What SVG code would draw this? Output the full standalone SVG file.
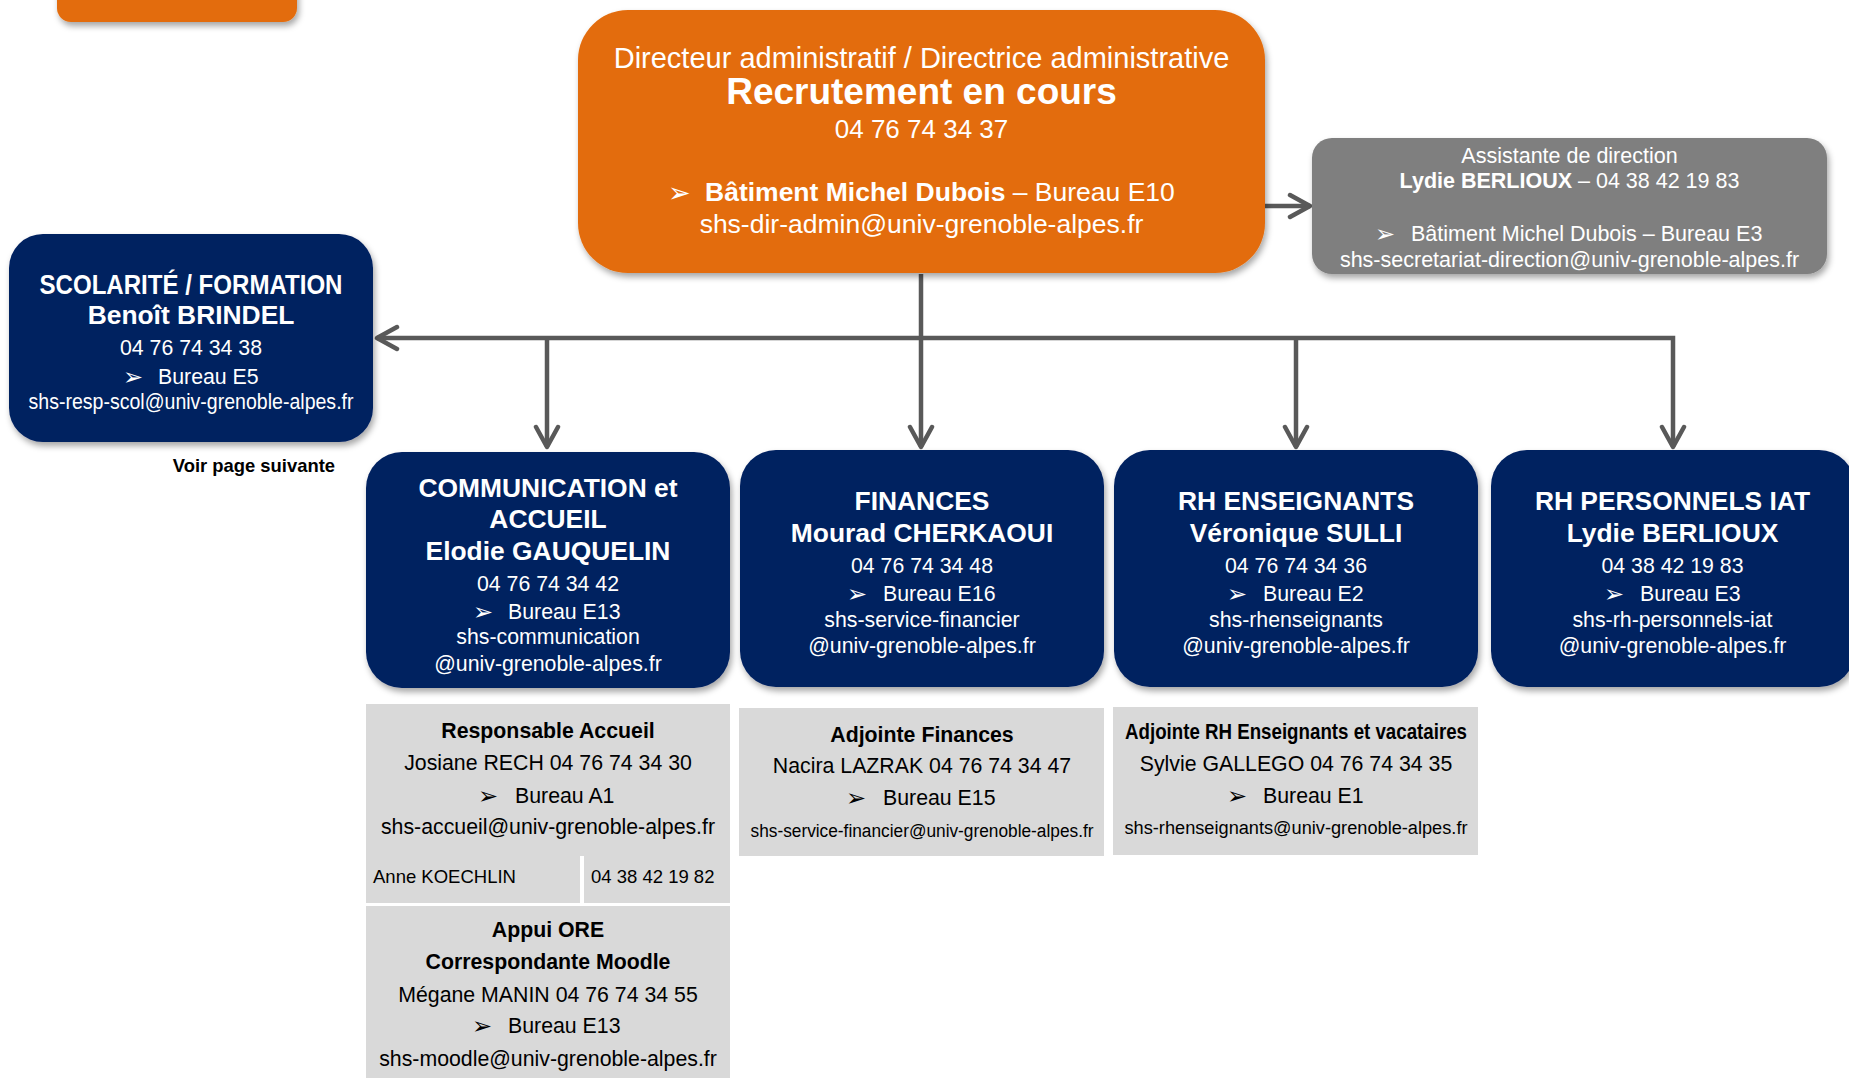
<svg xmlns="http://www.w3.org/2000/svg" width="1849" height="1078" viewBox="0 0 1849 1078">
<style>
text{font-family:"Liberation Sans",Arial,sans-serif;}
.w{fill:#fff}.k{fill:#000}.b{font-weight:700}.c{text-anchor:middle}
.blt{font-family:"DejaVu Sans",sans-serif}
.navy{fill:#002060}.org{fill:#E36C0A}.gry{fill:#7F7F7F}.lg{fill:#D9D9D9}
.conn{stroke:#595959;stroke-width:4.5;fill:none}
.h{font-size:26.4px;font-weight:700}
.t{font-size:21.3px}
.bs{font-size:24px}
</style>
<defs>
<filter id="sh" x="-10%" y="-10%" width="125%" height="130%"><feDropShadow dx="2" dy="4" stdDeviation="3" flood-color="#000" flood-opacity="0.35"/></filter>
<marker id="ah" markerUnits="userSpaceOnUse" viewBox="0 0 28 28" markerWidth="28" markerHeight="28" refX="23" refY="14" orient="auto"><path d="M3,3 L23,14 L3,25" fill="none" stroke="#595959" stroke-width="4.5" stroke-linecap="round" stroke-linejoin="round"/></marker>
</defs>
<rect width="1849" height="1078" fill="#fff"/>

<g id="connectors">
<path class="conn" d="M921,274 V447" marker-end="url(#ah)"/>
<path class="conn" d="M921,338 H377" marker-end="url(#ah)"/>
<path class="conn" d="M921,338 H1673 V447" marker-end="url(#ah)"/>
<path class="conn" d="M547,338 V447" marker-end="url(#ah)"/>
<path class="conn" d="M1296,338 V447" marker-end="url(#ah)"/>
<path class="conn" d="M1265,206 H1310" marker-end="url(#ah)"/>
</g>

<g id="top-left-box">
<rect class="org" x="57" y="-40" width="240" height="62" rx="14" filter="url(#sh)"/>
</g>

<g id="direction">
<rect class="org" x="578" y="10" width="687" height="263" rx="50" filter="url(#sh)"/>
<text class="w c" x="921.5" y="68" font-size="29">Directeur administratif / Directrice administrative</text>
<text class="w c b" x="921.5" y="104" font-size="37">Recrutement en cours</text>
<text class="w c" x="921.5" y="138" font-size="26">04 76 74 34 37</text>
<text class="w blt" x="668" y="202" font-size="27">➢</text>
<text class="w" x="705" y="201" font-size="26.5"><tspan class="b">Bâtiment Michel Dubois</tspan> – Bureau E10</text>
<text class="w c" x="921.5" y="233" font-size="26.5">shs-dir-admin@univ-grenoble-alpes.fr</text>
</g>

<g id="assistante">
<rect class="gry" x="1312" y="138" width="515" height="136" rx="20" filter="url(#sh)"/>
<text class="w c" x="1569.5" y="163" font-size="21.5">Assistante de direction</text>
<text class="w c" x="1569.5" y="188" font-size="21.5"><tspan class="b">Lydie BERLIOUX</tspan> – 04 38 42 19 83</text>
<text class="w blt bs" x="1375" y="242">➢</text>
<text class="w" x="1411" y="241" font-size="21.5">Bâtiment Michel Dubois – Bureau E3</text>
<text class="w c" x="1569.5" y="267" font-size="21.5">shs-secretariat-direction@univ-grenoble-alpes.fr</text>
</g>

<g id="scolarite">
<rect class="navy" x="9" y="234" width="364" height="208" rx="34" filter="url(#sh)"/>
<text class="w c b" x="191" y="294" font-size="27" textLength="303" lengthAdjust="spacingAndGlyphs">SCOLARITÉ / FORMATION</text>
<text class="w c h" x="191" y="324">Benoît BRINDEL</text>
<text class="w c t" x="191" y="355">04 76 74 34 38</text>
<text class="w blt bs" x="123" y="385">➢</text>
<text class="w t" x="158" y="384">Bureau E5</text>
<text class="w c t" x="191" y="409" textLength="325" lengthAdjust="spacingAndGlyphs">shs-resp-scol@univ-grenoble-alpes.fr</text>
</g>

<g id="voir-page">
<text class="k b" x="335" y="472" font-size="18.4" text-anchor="end">Voir page suivante</text>
</g>

<g id="communication">
<rect class="navy" x="366" y="452" width="364" height="236" rx="36" filter="url(#sh)"/>
<text class="w c h" x="548" y="497">COMMUNICATION et</text>
<text class="w c h" x="548" y="528">ACCUEIL</text>
<text class="w c h" x="548" y="560">Elodie GAUQUELIN</text>
<text class="w c t" x="548" y="591">04 76 74 34 42</text>
<text class="w blt bs" x="473" y="620">➢</text>
<text class="w t" x="508" y="619">Bureau E13</text>
<text class="w c t" x="548" y="644">shs-communication</text>
<text class="w c t" x="548" y="671">@univ-grenoble-alpes.fr</text>
</g>

<g id="finances">
<rect class="navy" x="740" y="450" width="364" height="237" rx="36" filter="url(#sh)"/>
<text class="w c h" x="922" y="510">FINANCES</text>
<text class="w c h" x="922" y="542">Mourad CHERKAOUI</text>
<text class="w c t" x="922" y="573">04 76 74 34 48</text>
<text class="w blt bs" x="847" y="602">➢</text>
<text class="w t" x="883" y="601">Bureau E16</text>
<text class="w c t" x="922" y="627">shs-service-financier</text>
<text class="w c t" x="922" y="653">@univ-grenoble-alpes.fr</text>
</g>

<g id="rh-enseignants">
<rect class="navy" x="1114" y="450" width="364" height="237" rx="36" filter="url(#sh)"/>
<text class="w c h" x="1296" y="510">RH ENSEIGNANTS</text>
<text class="w c h" x="1296" y="542">Véronique SULLI</text>
<text class="w c t" x="1296" y="573">04 76 74 34 36</text>
<text class="w blt bs" x="1227" y="602">➢</text>
<text class="w t" x="1263" y="601">Bureau E2</text>
<text class="w c t" x="1296" y="627">shs-rhenseignants</text>
<text class="w c t" x="1296" y="653">@univ-grenoble-alpes.fr</text>
</g>

<g id="rh-iat">
<rect class="navy" x="1491" y="450" width="364" height="237" rx="36" filter="url(#sh)"/>
<text class="w c h" x="1672.5" y="510">RH PERSONNELS IAT</text>
<text class="w c h" x="1672.5" y="542">Lydie BERLIOUX</text>
<text class="w c t" x="1672.5" y="573">04 38 42 19 83</text>
<text class="w blt bs" x="1604" y="602">➢</text>
<text class="w t" x="1640" y="601">Bureau E3</text>
<text class="w c t" x="1672.5" y="627">shs-rh-personnels-iat</text>
<text class="w c t" x="1672.5" y="653">@univ-grenoble-alpes.fr</text>
</g>

<g id="accueil">
<rect class="lg" x="366" y="704" width="364" height="199"/>
<rect fill="#fff" x="580" y="856" width="4" height="47"/>
<text class="k c t b" x="548" y="738">Responsable Accueil</text>
<text class="k c t" x="548" y="770">Josiane RECH 04 76 74 34 30</text>
<text class="k blt bs" x="478" y="804">➢</text>
<text class="k t" x="515" y="803">Bureau A1</text>
<text class="k c t" x="548" y="834">shs-accueil@univ-grenoble-alpes.fr</text>
<text class="k" x="373" y="883" font-size="18.5">Anne KOECHLIN</text>
<text class="k" x="591" y="883" font-size="18.5">04 38 42 19 82</text>
</g>

<g id="appui-ore">
<rect class="lg" x="366" y="906" width="364" height="180"/>
<text class="k c t b" x="548" y="937">Appui ORE</text>
<text class="k c t b" x="548" y="969">Correspondante Moodle</text>
<text class="k c t" x="548" y="1002">Mégane MANIN 04 76 74 34 55</text>
<text class="k blt bs" x="472" y="1034">➢</text>
<text class="k t" x="508" y="1033">Bureau E13</text>
<text class="k c t" x="548" y="1066">shs-moodle@univ-grenoble-alpes.fr</text>
</g>

<g id="adjointe-finances">
<rect class="lg" x="739" y="708" width="365" height="148"/>
<text class="k c t b" x="922" y="742">Adjointe Finances</text>
<text class="k c t" x="922" y="773">Nacira LAZRAK 04 76 74 34 47</text>
<text class="k blt bs" x="846" y="806">➢</text>
<text class="k t" x="883" y="805">Bureau E15</text>
<text class="k c" x="922" y="837" font-size="19.2" textLength="343" lengthAdjust="spacingAndGlyphs">shs-service-financier@univ-grenoble-alpes.fr</text>
</g>

<g id="adjointe-rh">
<rect class="lg" x="1113" y="707" width="365" height="148"/>
<text class="k c t b" x="1296" y="739" textLength="342" lengthAdjust="spacingAndGlyphs">Adjointe RH Enseignants et vacataires</text>
<text class="k c t" x="1296" y="771">Sylvie GALLEGO 04 76 74 34 35</text>
<text class="k blt bs" x="1227" y="804">➢</text>
<text class="k t" x="1263" y="803">Bureau E1</text>
<text class="k c" x="1296" y="834" font-size="19.2" textLength="343" lengthAdjust="spacingAndGlyphs">shs-rhenseignants@univ-grenoble-alpes.fr</text>
</g>
</svg>
